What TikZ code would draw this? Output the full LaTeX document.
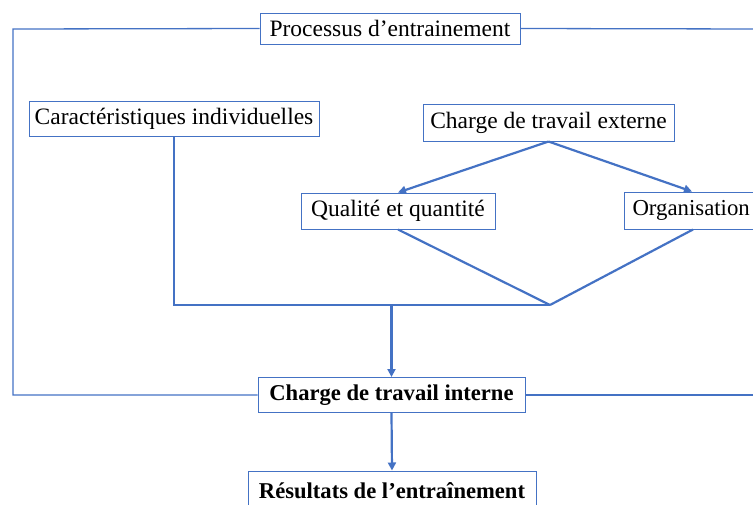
\documentclass[tikz,border=0pt]{standalone}
\usepackage{fontspec}
\setmainfont{Liberation Serif}
\usepackage{xcolor}
\usetikzlibrary{arrows.meta}
\definecolor{lineblue}{RGB}{68,114,196}

\begin{document}
\begin{tikzpicture}[x=1pt, y=-1pt, font=\fontsize{23.5}{28}\selectfont,
  box/.style={draw=lineblue, line width=1pt, inner sep=0pt, fill=white},
  boldbox/.style={box, font=\fontsize{22.6}{28}\selectfont\bfseries},
  link/.style={draw=lineblue, line width=2.2pt},
  arr/.style={link, -{Triangle[length=8pt,width=8pt]}},
  frame/.style={draw=lineblue, line width=1.3pt}]
\useasboundingbox (0,0) rectangle (753,504);
\node[box, minimum width=260pt, minimum height=31pt] (1) at (390,28.5) {Processus d’entrainement};
\node[box, minimum width=290pt, minimum height=35pt] (2) at (174,118.5) {Caractéristiques individuelles};
\node[box, minimum width=251pt, minimum height=37pt] (3) at (548.5,122.5) {Charge de travail externe};
\node[box, minimum width=194pt, minimum height=36pt] (4) at (398,211) {Qualité et quantité};
\node[box, anchor=west, text width=140pt, align=left, inner xsep=8pt, minimum height=37pt, font=\fontsize{22.8}{28}\selectfont] (5) at (624,210.5) {Organisation};
\node[boldbox, minimum width=267pt, minimum height=35pt] (6) at (391.5,395) {Charge de travail interne};
\node[boldbox, minimum width=288pt, minimum height=40pt] (7) at (392,491) {Résultats de l’entraînement};
\coordinate (tl) at (13,29);
\coordinate (bl) at (13,395);
\coordinate (tr) at (760,29);
\coordinate (br) at (760,395);
\coordinate (m) at (550,305);
% cadre
\draw[frame] (1.west) -- (tl) -- (bl) -- (6.west);
\draw[frame] (1.east) -- (tr);
\draw[frame] (6.east) -- (br);
% liens
\draw[arr] (3.south) -- (4.north);
\draw[arr] (3.south) -- ([xshift=68pt]5.north west);
\draw[link] (4.south) -- (m);
\draw[link] ([xshift=69pt]5.south west) -- (m);
\draw[link] (2.south) |- (m);
\draw[arr] (6.north |- m) -- (6.north);
\draw[arr] (6.south) -- (7.north);
\end{tikzpicture}
\end{document}
